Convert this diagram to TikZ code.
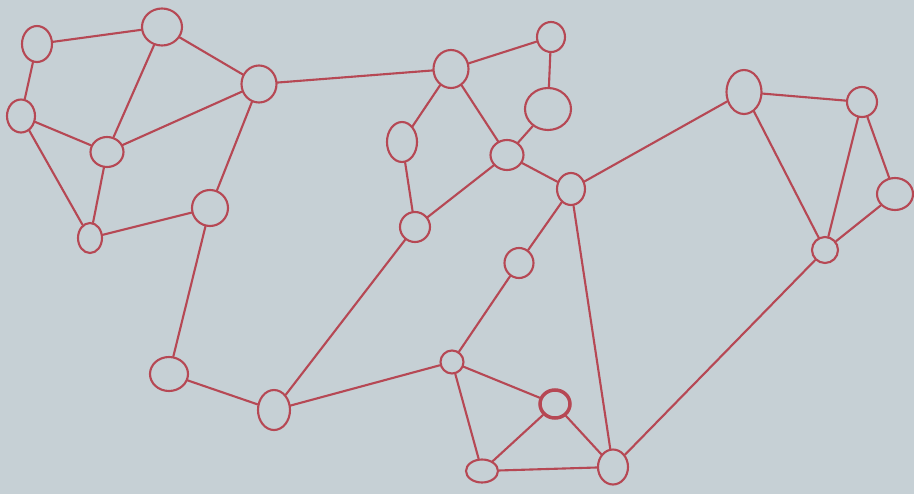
\documentclass[tikz,border=0pt]{standalone}
\usetikzlibrary{shapes.geometric}
\definecolor{pen}{RGB}{182,72,84}
\definecolor{paper}{RGB}{198,208,213}

\begin{document}
\begin{tikzpicture}[x=0.02cm,y=-0.02cm,
 v/.style={ellipse,draw=pen,line width=1.2pt,inner sep=0pt},
 sz/.style 2 args={minimum width=#1*0.02cm,minimum height=#2*0.02cm},
 e/.style={draw=pen,line width=1.2pt,line cap=round}]
\fill[paper] (0,0) rectangle (914,494);
\useasboundingbox (0,0) rectangle (914,494);
% left cluster
\node[v,sz={30}{36}] (a) at (37,44) {};
\node[v,sz={40}{37}] (b) at (162,27) {};
\node[v,sz={35}{37}] (c) at (259,84) {};
\node[v,sz={28}{33}] (d) at (21,116) {};
\node[v,sz={33}{30}] (e) at (107,152) {};
\node[v,sz={36}{36}] (f) at (210,208) {};
\node[v,sz={24}{30}] (g) at (90,238) {};
% middle
\node[v,sz={35}{38}] (i) at (451,69) {};
\node[v,sz={28}{30}] (j) at (551,37) {};
\node[v,sz={46}{42}] (k) at (548,109) {};
\node[v,sz={30}{40}] (l) at (402,142) {};
\node[v,sz={33}{30}] (m) at (507,155) {};
\node[v,sz={30}{30}] (n) at (415,227) {};
\node[v,sz={28}{32}] (o) at (571,189) {};
\node[v,sz={29}{30}] (p) at (519,263) {};
% right cluster
\node[v,sz={35}{44}] (q) at (744,92) {};
\node[v,sz={30}{30}] (r) at (862,102) {};
\node[v,sz={36}{32}] (s) at (895,194) {};
\node[v,sz={26}{26}] (t) at (825,250) {};
% bottom
\node[v,sz={38}{34}] (h) at (169,374) {};
\node[v,sz={32}{40}] (u) at (274,410) {};
\node[v,sz={23}{23}] (w) at (452,362) {};
\node[v,sz={30}{28},line width=2pt] (x) at (555,404) {};
\node[v,sz={32}{23}] (y) at (482,471) {};
\node[v,sz={30}{35}] (z) at (613,467) {};
% edges
\foreach \s/\t in {a/b,a/d,b/c,b/e,d/e,d/g,e/g,e/c,c/f,g/f,f/h,c/i,
 i/j,j/k,i/l,i/m,k/m,m/o,n/m,l/n,n/u,o/q,o/p,p/w,o/z,
 h/u,w/u,w/x,w/y,x/y,x/z,y/z,z/t,
 q/r,q/t,r/t,r/s,t/s}
 \draw[e] (\s) -- (\t);
\end{tikzpicture}
\end{document}
